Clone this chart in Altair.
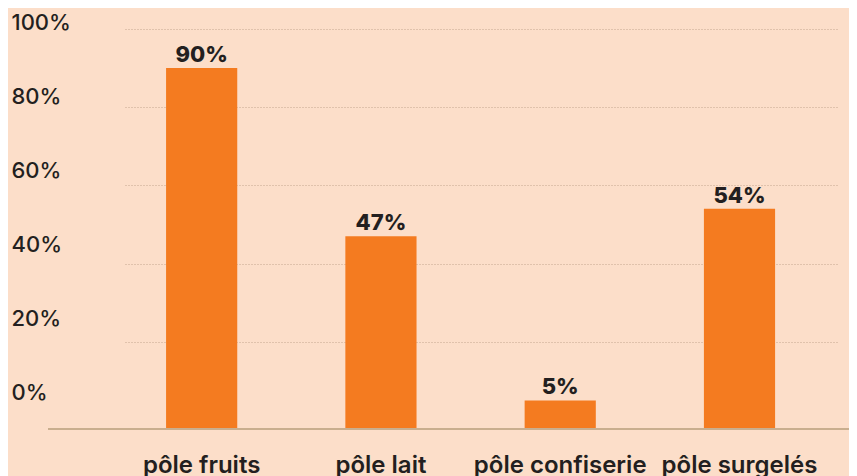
import altair as alt
import pandas as pd

categories = ["pôle fruits", "pôle lait", "pôle confiserie", "pôle surgelés"]
values = [90, 47, 5, 54]
value_labels = ["90%", "47%", "5%", "54%"]
tick_values = [0, 20, 40, 60, 80, 100]
grid_values = [20, 40, 60, 80, 100]

BG = "#FCDEC9"
BAR = "#F47B20"
TXT = "#231F20"
FONT = "Inter"
BASE = -2.05

df = pd.DataFrame({"cat": categories, "val": values, "lab": value_labels})
ticks = pd.DataFrame({"t": tick_values})

xenc = alt.X(
    "cat:N",
    sort=categories,
    title=None,
    scale=alt.Scale(paddingInner=0.603, paddingOuter=0.29, align=0.395),
    axis=alt.Axis(
        labelAngle=0, domain=False, ticks=False, labelPadding=25,
        labelFont=FONT, labelFontSize=24, labelFontWeight=600, labelColor=TXT,
    ),
)
yscale = alt.Scale(domain=[BASE, 100], nice=False, zero=False)

bars = alt.Chart(df).mark_bar(color=BAR).encode(
    x=xenc,
    y=alt.Y(
        "val:Q",
        scale=yscale,
        title=None,
        axis=alt.Axis(
            orient="left", values=grid_values, labels=False, ticks=False, tickSize=0,
            domain=False, grid=True, gridColor="#C4A68E", gridDash=[1, 2], gridWidth=1,
        ),
    ),
    y2=alt.datum(BASE),
)

texts = alt.Chart(df).mark_text(
    dy=-13, font=FONT, fontSize=22, fontWeight=800, color=TXT
).encode(x=alt.X("cat:N", sort=categories), y=alt.Y("val:Q", scale=yscale), text="lab:N")

baseline = alt.Chart(df).mark_rule(color="#C8AE8E", strokeWidth=1.5).encode(
    y=alt.datum(BASE), x=alt.value(-77), x2=alt.value(740), yOffset=alt.value(1)
)

inner = alt.layer(bars, baseline, texts)

ylabels = alt.Chart(ticks).mark_point(opacity=0).encode(
    y=alt.Y(
        "t:Q",
        title=None,
        scale=alt.Scale(domain=[0, 100], range=[363, -7], nice=False, zero=False),
        axis=alt.Axis(
            orient="left", values=tick_values, labelExpr="datum.value + '%'",
            ticks=False, tickSize=0, domain=False, grid=False,
            labelAlign="left", labelPadding=114, labelBaseline="middle",
            labelFont=FONT, labelFontSize=22, labelFontWeight=500, labelColor=TXT,
        ),
    )
)

chart = (
    alt.layer(inner, ylabels)
    .resolve_scale(y="independent")
    .properties(
        width=713, height=399,
        autosize=alt.AutoSizeParams(type="none"),
        padding={"left": 117, "top": 21, "right": 11, "bottom": 48},
        background=BG,
    )
    .configure_view(stroke=None)
)

chart.save("out.html", embed_options={"renderer": "svg", "actions": False})
